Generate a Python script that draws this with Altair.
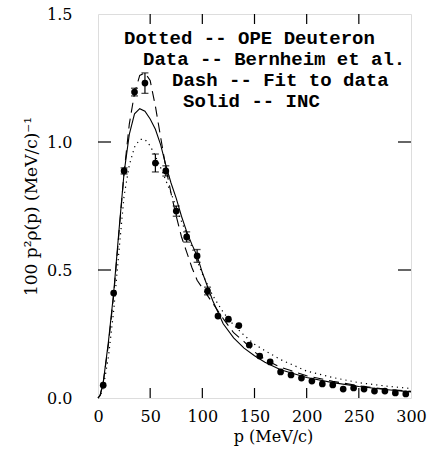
import altair as alt
import pandas as pd

# Data points (Bernheim et al.)
p_data = [5, 15, 25, 35, 45, 55, 65, 75, 85, 95, 105, 115, 125, 135, 145, 155,
          165, 175, 185, 195, 205, 215, 225, 235, 245, 255, 265, 275, 285, 295]
y_data = [0.05, 0.41, 0.887, 1.195, 1.23, 0.918, 0.887, 0.73, 0.629, 0.555, 0.418,
          0.32, 0.308, 0.283, 0.207, 0.164, 0.141, 0.102, 0.09, 0.078, 0.066, 0.055,
          0.051, 0.035, 0.039, 0.035, 0.027, 0.027, 0.02, 0.016]
err_data = [0, 0, 0.012, 0.015, 0.04, 0.035, 0.02, 0.02, 0.02, 0.025, 0.015,
            0, 0, 0, 0, 0, 0, 0, 0, 0, 0, 0, 0, 0, 0, 0, 0, 0, 0, 0]

# Curves
p_curve = [0, 2, 5, 10, 15, 20, 25, 30, 35, 40, 45, 50, 55, 60, 65, 70, 75, 80, 85,
           90, 95, 100, 110, 120, 130, 140, 150, 160, 175, 200, 225, 250, 275, 300]
solid_inc = [0, 0.01, 0.06, 0.22, 0.41, 0.65, 0.88, 1.03, 1.11, 1.13, 1.12, 1.09, 1.05,
             0.99, 0.91, 0.84, 0.78, 0.71, 0.65, 0.60, 0.555, 0.49, 0.38, 0.29, 0.235,
             0.195, 0.165, 0.14, 0.11, 0.08, 0.06, 0.045, 0.033, 0.024]
dash_fit = [0, 0.01, 0.06, 0.21, 0.40, 0.64, 0.88, 1.07, 1.19, 1.26, 1.27, 1.24, 1.14,
            1.02, 0.90, 0.80, 0.71, 0.63, 0.57, 0.51, 0.46, 0.43, 0.37, 0.31, 0.255,
            0.22, 0.18, 0.15, 0.12, 0.087, 0.065, 0.048, 0.035, 0.026]
dot_ope = [0, 0.005, 0.04, 0.16, 0.34, 0.57, 0.79, 0.91, 0.98, 1.01, 1.01, 0.985, 0.945,
           0.90, 0.85, 0.80, 0.745, 0.69, 0.64, 0.59, 0.535, 0.485, 0.40, 0.335, 0.285,
           0.245, 0.21, 0.185, 0.15, 0.105, 0.08, 0.06, 0.047, 0.037]

x_ticks = [0, 50, 100, 150, 200, 250, 300]
y_ticks = [0.0, 0.5, 1.0, 1.5]
x_inner_ticks = [50, 100, 150, 200, 250]
y_inner_ticks = [0.5, 1.0]

legend_lines = ["Dotted -- OPE Deuteron", "Data -- Bernheim et al.",
                "Dash -- Fit to data", "Solid -- INC"]

FONT = "DejaVu Serif"
MONO = "Liberation Mono"
W, H = 313, 384

pts = pd.DataFrame({"p": p_data, "y": y_data, "e": err_data})
pts["lo"] = pts["y"] - pts["e"]
pts["hi"] = pts["y"] + pts["e"]
errs = pts[pts["e"] > 0]
curves = pd.DataFrame({"p": p_curve, "solid": solid_inc, "dash": dash_fit, "dot": dot_ope})

xscale = alt.Scale(domain=[0, 300], nice=False, zero=False)
yscale = alt.Scale(domain=[0, 1.5], nice=False, zero=False)
xaxis = alt.Axis(values=x_ticks, ticks=False, domain=False, grid=False, labelFlush=False,
                 labelFont=FONT, labelFontSize=16, labelColor="black", labelPadding=10,
                 title="p (MeV/c)", titleFont=FONT, titleFontSize=16, titleFontWeight="normal",
                 titleColor="black", titlePadding=4, titleX=175)
yaxis = alt.Axis(values=y_ticks, format=".1f", ticks=False, domain=False, grid=False,
                 labelFlush=False, labelFont=FONT, labelFontSize=16, labelColor="black",
                 labelPadding=26, title="100 p²ρ(p) (MeV/c)⁻¹", titleFont=FONT,
                 titleFontSize=17, titleFontWeight="normal", titleColor="black",
                 titlePadding=6)

X = alt.X("p:Q", scale=xscale, axis=xaxis)

def Yf(field):
    return alt.Y(field + ":Q", scale=yscale, axis=yaxis)

c = alt.Chart(curves)
solid = c.mark_line(color="black", strokeWidth=1.1).encode(x=X, y=Yf("solid"))
dash = c.mark_line(color="black", strokeWidth=1.1, strokeDash=[10, 6]).encode(x=X, y=Yf("dash"))
dot = c.mark_line(color="black", strokeWidth=1.2, strokeDash=[1.2, 4]).encode(x=X, y=Yf("dot"))

points = alt.Chart(pts).mark_circle(color="black", size=45, opacity=1).encode(x=X, y=Yf("y"))
ebar = alt.Chart(errs).mark_rule(color="black", strokeWidth=1.2).encode(x=X, y=Yf("lo"), y2="hi")
ecap_hi = alt.Chart(errs).mark_tick(color="black", thickness=1.3, size=7, orient="horizontal").encode(x=X, y=Yf("hi"))
ecap_lo = alt.Chart(errs).mark_tick(color="black", thickness=1.3, size=7, orient="horizontal").encode(x=X, y=Yf("lo"))

xt = alt.Chart(pd.DataFrame({"p": x_inner_ticks}))
tb = xt.mark_rule(color="black", strokeWidth=1.2).encode(x=X, y=alt.value(H), y2=alt.value(H - 10))
tt = xt.mark_rule(color="black", strokeWidth=1.2).encode(x=X, y=alt.value(0), y2=alt.value(10))
yt = alt.Chart(pd.DataFrame({"y": y_inner_ticks}))
tl = yt.mark_rule(color="black", strokeWidth=1.2).encode(y=Yf("y"), x=alt.value(0), x2=alt.value(13))
tr = yt.mark_rule(color="black", strokeWidth=1.2).encode(y=Yf("y"), x=alt.value(W), x2=alt.value(W - 13))

text_pos = [(26, 24), (45, 45), (74, 66), (85, 87)]
texts = []
for line, (tx, ty) in zip(legend_lines, text_pos):
    texts.append(
        alt.Chart(pd.DataFrame({"t": [line]})).mark_text(
            font=MONO, fontSize=19, fontWeight="bold", align="left", baseline="middle", color="black"
        ).encode(x=alt.value(tx), y=alt.value(ty), text="t:N")
    )

chart = alt.layer(solid, dash, dot, ebar, ecap_hi, ecap_lo, points, tb, tt, tl, tr, *texts).properties(
    width=W, height=H,
    autosize=alt.AutoSizeParams(type="none"),
    padding={"left": 98, "top": 14, "right": 19, "bottom": 61},
).configure_view(stroke="black", strokeWidth=1.5).configure(background="white")

chart.save("out.html", embed_options={"renderer": "svg", "actions": False})
